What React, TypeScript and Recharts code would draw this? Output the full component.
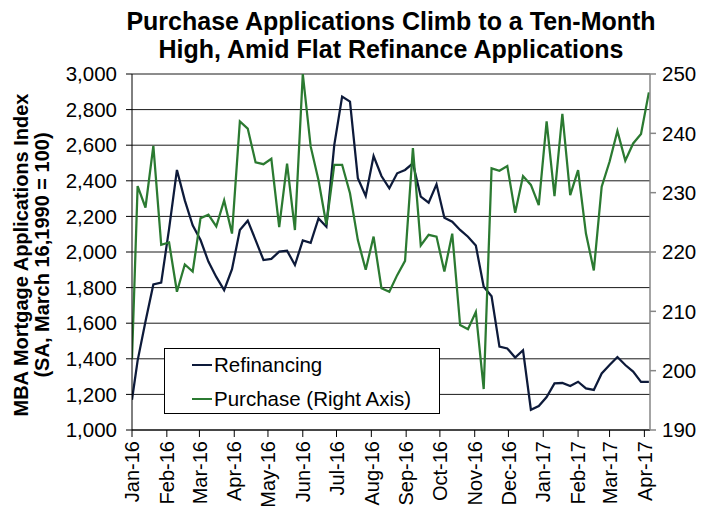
import React from 'react';
import { LineChart, Line, XAxis, YAxis, CartesianGrid, Legend } from 'recharts';

const weekDates = [
  '2016-01-01', '2016-01-06', '2016-01-13', '2016-01-20', '2016-01-27',
  '2016-02-03', '2016-02-10', '2016-02-17', '2016-02-24',
  '2016-03-02', '2016-03-09', '2016-03-16', '2016-03-23', '2016-03-30',
  '2016-04-06', '2016-04-13', '2016-04-20', '2016-04-27',
  '2016-05-04', '2016-05-11', '2016-05-18', '2016-05-25',
  '2016-06-01', '2016-06-08', '2016-06-15', '2016-06-22', '2016-06-29',
  '2016-07-06', '2016-07-13', '2016-07-20', '2016-07-27',
  '2016-08-03', '2016-08-10', '2016-08-17', '2016-08-24', '2016-08-31',
  '2016-09-07', '2016-09-14', '2016-09-21', '2016-09-28',
  '2016-10-05', '2016-10-12', '2016-10-19', '2016-10-26',
  '2016-11-02', '2016-11-09', '2016-11-16', '2016-11-23', '2016-11-30',
  '2016-12-07', '2016-12-14', '2016-12-21', '2016-12-28',
  '2017-01-04', '2017-01-11', '2017-01-18', '2017-01-25',
  '2017-02-01', '2017-02-08', '2017-02-15', '2017-02-22',
  '2017-03-01', '2017-03-08', '2017-03-15', '2017-03-22', '2017-03-29',
  '2017-04-05',
];

const refinancing = [
  1170, 1390, 1610, 1818, 1828, 2130, 2461, 2290, 2150, 2067,
  1946, 1860, 1786, 1903, 2124, 2176, 2067, 1955, 1961, 2002,
  2007, 1927, 2065, 2052, 2189, 2142, 2601, 2873, 2845, 2414,
  2315, 2539, 2427, 2358, 2442, 2461, 2498, 2311, 2277, 2380,
  2193, 2170, 2124, 2086, 2036, 1805, 1751, 1468, 1458, 1407,
  1448, 1114, 1135, 1185, 1262, 1264, 1247, 1271, 1234, 1225,
  1318, 1365, 1410, 1365, 1328, 1270, 1270,
];

const purchase = [
  202.0, 231.1, 227.5, 237.9, 221.2, 221.6, 213.3, 217.9, 216.7, 225.7,
  226.3, 224.3, 228.7, 223.1, 242.0, 240.8, 235.1, 234.8, 235.7, 224.2,
  234.9, 223.7, 250.0, 237.8, 232.1, 224.6, 234.7, 234.7, 229.9, 222.0,
  217.0, 222.6, 213.9, 213.3, 216.1, 218.5, 237.5, 221.1, 222.9, 222.6,
  216.7, 223.1, 207.7, 207.0, 209.9, 196.9, 234.1, 233.7, 234.5, 226.6,
  232.8, 231.3, 227.9, 242.0, 229.4, 243.3, 229.6, 233.8, 223.1, 216.9,
  231.0, 235.2, 240.4, 235.4, 238.3, 239.9, 246.9,
];

const monthTickDates = [
  '2016-01-01', '2016-02-01', '2016-03-01', '2016-04-01', '2016-05-01', '2016-06-01',
  '2016-07-01', '2016-08-01', '2016-09-01', '2016-10-01', '2016-11-01', '2016-12-01',
  '2017-01-01', '2017-02-01', '2017-03-01', '2017-04-01',
];
const monthTickLabels = [
  'Jan-16', 'Feb-16', 'Mar-16', 'Apr-16', 'May-16', 'Jun-16',
  'Jul-16', 'Aug-16', 'Sep-16', 'Oct-16', 'Nov-16', 'Dec-16',
  'Jan-17', 'Feb-17', 'Mar-17', 'Apr-17',
];
const leftTicks = [1000, 1200, 1400, 1600, 1800, 2000, 2200, 2400, 2600, 2800, 3000];
const rightTicks = [190, 200, 210, 220, 230, 240, 250];

const titleLines = ['Purchase Applications Climb to a Ten-Month', 'High, Amid Flat Refinance Applications'];
const yTitleLines = ['MBA Mortgage Applications Index', '(SA, March 16,1990 = 100)'];
const seriesNames = ['Refinancing', 'Purchase (Right Axis)'];

const REFI_COLOR = '#0d1a3a';
const PURCH_COLOR = '#2b7a31';
const FONT = '"Liberation Sans", Arial, Helvetica, sans-serif';

const dayOf = (iso: string) => {
  const [y, m, d] = iso.split('-').map(Number);
  return Math.round((Date.UTC(y, m - 1, d) - Date.UTC(2016, 0, 1)) / 86400000);
};

const data = weekDates.map((d, i) => ({
  day: dayOf(d),
  refi: refinancing[i],
  purchase: purchase[i],
}));
const monthTicks = monthTickDates.map(dayOf);
const labelByDay: Record<number, string> = {};
monthTicks.forEach((t, i) => { labelByDay[t] = monthTickLabels[i]; });

const XTick = (props: any) => {
  const { x, y, payload } = props;
  return (
    <text
      x={x}
      y={y}
      transform={`rotate(-90 ${x} ${y})`}
      textAnchor="end"
      dy="0.36em"
      fontSize={20}
      fontFamily={FONT}
      fill="#000"
    >
      {labelByDay[payload.value]}
    </text>
  );
};

const LegendBox = () => (
  <div
    style={{
      width: 276,
      height: 66,
      boxSizing: 'border-box',
      border: '1px solid #000',
      background: '#fff',
      position: 'relative',
      fontFamily: FONT,
      fontSize: 20.5,
      color: '#000',
    }}
  >
    {[REFI_COLOR, PURCH_COLOR].map((c, i) => (
      <div key={i} style={{ position: 'absolute', left: 27, top: 16 + i * 34 - 12, height: 24, display: 'flex', alignItems: 'center' }}>
        <div style={{ width: 20, height: 2, background: c }} />
        <span style={{ marginLeft: 2, lineHeight: '24px', whiteSpace: 'nowrap' }}>{seriesNames[i]}</span>
      </div>
    ))}
  </div>
);

export default function App() {
  return (
    <div style={{ position: 'absolute', left: 0, top: 0, width: 705, height: 512, background: '#fff' }}>
      <LineChart width={705} height={512} data={data} margin={{ top: 74, right: 0, bottom: 0, left: 0 }}>
        <CartesianGrid yAxisId="left" vertical={false} stroke="#1a1a1a" strokeWidth={1} />
        <XAxis
          dataKey="day"
          type="number"
          domain={[0, 461]}
          ticks={monthTicks}
          interval={0}
          height={82}
          tickSize={7}
          tickMargin={4}
          axisLine={{ stroke: '#000', strokeWidth: 1 }}
          tickLine={{ stroke: '#000' }}
          tick={<XTick />}
          allowDataOverflow
        />
        <YAxis
          yAxisId="left"
          domain={[1000, 3000]}
          ticks={leftTicks}
          interval={0}
          width={132}
          tickSize={6}
          tickMargin={9}
          axisLine={{ stroke: '#000', strokeWidth: 1 }}
          tickLine={{ stroke: '#000' }}
          tick={{ fontSize: 20.5, fill: '#000', fontFamily: FONT }}
          tickFormatter={(v: number) => v.toLocaleString('en-US')}
          allowDataOverflow
        />
        <YAxis
          yAxisId="right"
          orientation="right"
          domain={[190, 250]}
          ticks={rightTicks}
          interval={0}
          width={55}
          tickSize={6}
          tickMargin={6}
          axisLine={{ stroke: '#868686', strokeWidth: 1.5 }}
          tickLine={{ stroke: '#868686', strokeWidth: 1.5 }}
          tick={{ fontSize: 20.5, fill: '#000', fontFamily: FONT, textAnchor: 'start' }}
          allowDataOverflow
        />
        <Legend
          layout="vertical"
          align="center"
          verticalAlign="middle"
          wrapperStyle={{ position: 'absolute', left: 164, top: 348, width: 276, height: 66 }}
          content={() => <LegendBox />}
        />
        <Line
          yAxisId="left"
          type="linear"
          dataKey="refi"
          name={seriesNames[0]}
          stroke={REFI_COLOR}
          strokeWidth={2.25}
          dot={false}
          activeDot={false}
          isAnimationActive={false}
        />
        <Line
          yAxisId="right"
          type="linear"
          dataKey="purchase"
          name={seriesNames[1]}
          stroke={PURCH_COLOR}
          strokeWidth={2.25}
          dot={false}
          activeDot={false}
          isAnimationActive={false}
        />
      </LineChart>
      <svg
        width={705}
        height={512}
        style={{ position: 'absolute', left: 0, top: 0, pointerEvents: 'none' }}
      >
        {titleLines.map((t, i) => (
          <text
            key={i}
            x={391}
            y={30 + i * 28}
            textAnchor="middle"
            fontFamily={FONT}
            fontWeight="bold"
            fontSize={25}
            fill="#000"
          >
            {t}
          </text>
        ))}
        {yTitleLines.map((t, i) => (
          <text
            key={i}
            x={0}
            y={0}
            transform={`translate(${28 + i * 21} 255) rotate(-90)`}
            textAnchor="middle"
            fontFamily={FONT}
            fontWeight="bold"
            fontSize={20}
            fill="#000"
          >
            {t}
          </text>
        ))}
      </svg>
    </div>
  );
}
